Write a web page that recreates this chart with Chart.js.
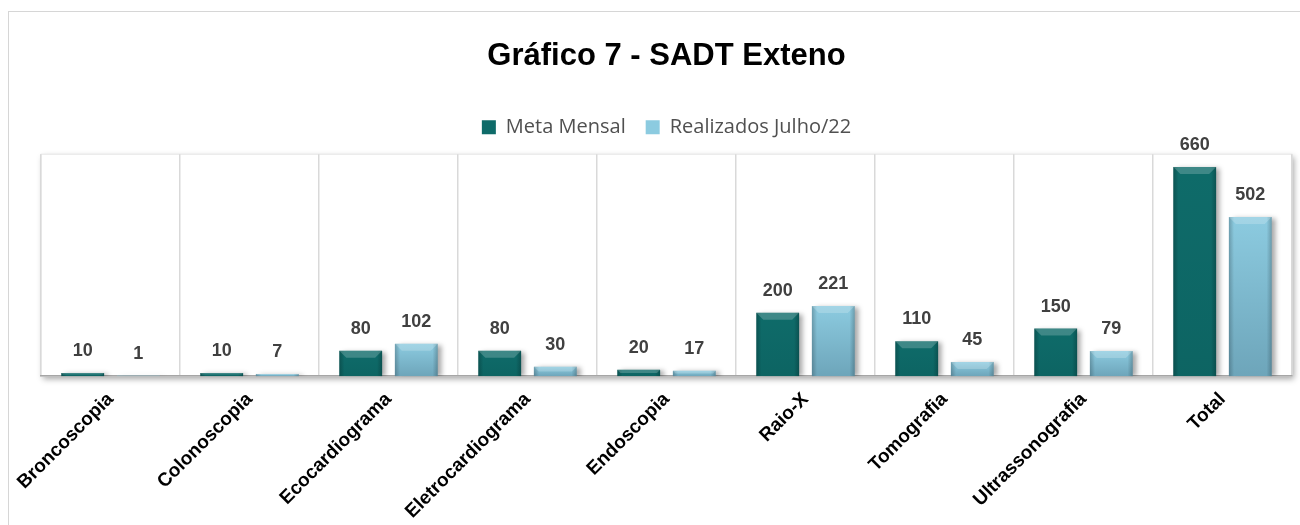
<!DOCTYPE html>
<html lang="pt">
<head>
    <meta charset="UTF-8">
    <title>Gráfico 7 - SADT Exteno</title>
    <script src="https://cdn.jsdelivr.net/npm/chart.js"></script>
    <style>
        body { margin: 0; overflow: hidden; background: #fff; }
        #frame { position: absolute; left: 8px; top: 11px; width: 1300px; height: 600px; border: 1px solid #d6d6d6; }
        #myChart { position: absolute; left: 0; top: 0; }
    </style>
</head>
<body>
    <div id="frame"></div>
    <canvas id="myChart" width="1300" height="525"></canvas>
    <script>
        // Données
        const categories = ['Broncoscopia', 'Colonoscopia', 'Ecocardiograma', 'Eletrocardiograma', 'Endoscopia', 'Raio-X', 'Tomografia', 'Ultrassonografia', 'Total'];
        const metaMensal = [10, 10, 80, 80, 20, 200, 110, 150, 660];
        const realizados = [1, 7, 102, 30, 17, 221, 45, 79, 502];
        const seriesNames = ['Meta Mensal', 'Realizados Julho/22'];
        const titleText = 'Gráfico 7 - SADT Exteno';
        const yMax = 700;

        const FONT = "'Liberation Sans', Arial, sans-serif";

        // fond blanc + ombre de la zone de tracé
        const plotBackground = {
            id: 'plotBackground',
            beforeDraw(chart) {
                const { ctx, chartArea: a } = chart;
                ctx.save();
                ctx.shadowColor = 'rgba(0,0,0,0.35)';
                ctx.shadowBlur = 6;
                ctx.shadowOffsetX = 2;
                ctx.shadowOffsetY = 3;
                ctx.fillStyle = '#ffffff';
                ctx.fillRect(a.left, a.top, a.right - a.left, a.bottom - a.top);
                ctx.restore();
                ctx.save();
                ctx.strokeStyle = '#e6e6e6';
                ctx.lineWidth = 1;
                ctx.strokeRect(a.left, a.top, a.right - a.left, a.bottom - a.top);
                ctx.restore();
            }
        };

        // ombre des barres
        const barShadow = {
            id: 'barShadow',
            beforeDatasetsDraw(chart) {
                const ctx = chart.ctx;
                ctx.save();
                ctx.shadowColor = 'rgba(0,0,0,0.35)';
                ctx.shadowBlur = 5;
                ctx.shadowOffsetX = 4;
                ctx.shadowOffsetY = 1;
            },
            afterDatasetsDraw(chart) {
                chart.ctx.restore();
            }
        };

        // effet biseauté + étiquettes de valeurs
        const barLabels = {
            id: 'barLabels',
            afterDatasetsDraw(chart) {
                const ctx = chart.ctx;
                chart.data.datasets.forEach((ds, di) => {
                    const meta = chart.getDatasetMeta(di);
                    meta.data.forEach((bar, i) => {
                        const { x, y, base, width } = bar.getProps(['x', 'y', 'base', 'width'], true);
                        const left = x - width / 2;
                        const h = base - y;
                        if (h > 1) {
                            ctx.save();
                            const g = ctx.createLinearGradient(left, 0, left + width, 0);
                            g.addColorStop(0, 'rgba(0,0,0,0.22)');
                            g.addColorStop(0.12, 'rgba(0,0,0,0)');
                            g.addColorStop(0.88, 'rgba(0,0,0,0)');
                            g.addColorStop(1, 'rgba(0,0,0,0.22)');
                            ctx.fillStyle = g;
                            ctx.fillRect(left, y, width, h);
                            const vg = ctx.createLinearGradient(0, y, 0, base);
                            vg.addColorStop(0, 'rgba(0,30,50,0)');
                            vg.addColorStop(1, di === 1 ? 'rgba(0,30,50,0.22)' : 'rgba(0,20,20,0.08)');
                            ctx.fillStyle = vg;
                            ctx.fillRect(left, y, width, h);
                            const bev = Math.min(7, h / 2);
                            ctx.fillStyle = 'rgba(255,255,255,0.2)';
                            ctx.beginPath();
                            ctx.moveTo(left, y);
                            ctx.lineTo(left + width, y);
                            ctx.lineTo(left + width - bev, y + bev);
                            ctx.lineTo(left + bev, y + bev);
                            ctx.closePath();
                            ctx.fill();
                            ctx.restore();
                        }
                        ctx.save();
                        ctx.font = 'bold 18px ' + FONT;
                        ctx.fillStyle = '#404040';
                        ctx.textAlign = 'center';
                        ctx.textBaseline = 'middle';
                        ctx.fillText(ds.data[i], x, y - 22);
                        ctx.restore();
                    });
                });
            }
        };

        // espace sous la légende
        const legendGap = {
            id: 'legendGap',
            beforeInit(chart) {
                const fit = chart.legend.fit;
                chart.legend.fit = function () {
                    fit.bind(chart.legend)();
                    this.height += 7;
                };
            }
        };

        function drawChart() {
            const ctx = document.getElementById('myChart').getContext('2d');
            new Chart(ctx, {
                type: 'bar',
                data: {
                    labels: categories,
                    datasets: [
                        {
                            label: seriesNames[0],
                            data: metaMensal,
                            backgroundColor: '#0e6b69',
                            borderWidth: 0,
                            categoryPercentage: 0.8,
                            barPercentage: 0.77
                        },
                        {
                            label: seriesNames[1],
                            data: realizados,
                            backgroundColor: '#8ccbe0',
                            borderWidth: 0,
                            categoryPercentage: 0.8,
                            barPercentage: 0.77
                        }
                    ]
                },
                options: {
                    responsive: false,
                    animation: false,
                    devicePixelRatio: 1,
                    layout: { padding: { left: 41, right: 8, top: 11, bottom: -10 } },
                    scales: {
                        y: { display: false, min: 0, max: yMax },
                        x: {
                            grid: { display: true, color: '#d9d9d9', lineWidth: 1.5, drawTicks: false },
                            border: { display: true, color: '#a6a6a6', width: 1.5 },
                            ticks: {
                                autoSkip: false,
                                maxRotation: 45,
                                minRotation: 45,
                                padding: 12,
                                color: '#000000',
                                font: { family: FONT, size: 19, weight: 'bold' }
                            }
                        }
                    },
                    plugins: {
                        title: {
                            display: true,
                            text: titleText,
                            color: '#000000',
                            font: { family: FONT, size: 31, weight: 'bold' },
                            padding: { top: 27, bottom: 22 }
                        },
                        legend: {
                            display: true,
                            position: 'top',
                            labels: {
                                boxWidth: 14,
                                boxHeight: 14,
                                padding: 20,
                                color: '#505050',
                                font: { family: "'Open Sans', sans-serif", size: 20 }
                            }
                        },
                        tooltip: { enabled: false }
                    }
                },
                plugins: [legendGap, plotBackground, barShadow, barLabels]
            });
        }

        window.onload = drawChart;
    </script>
</body>
</html>
